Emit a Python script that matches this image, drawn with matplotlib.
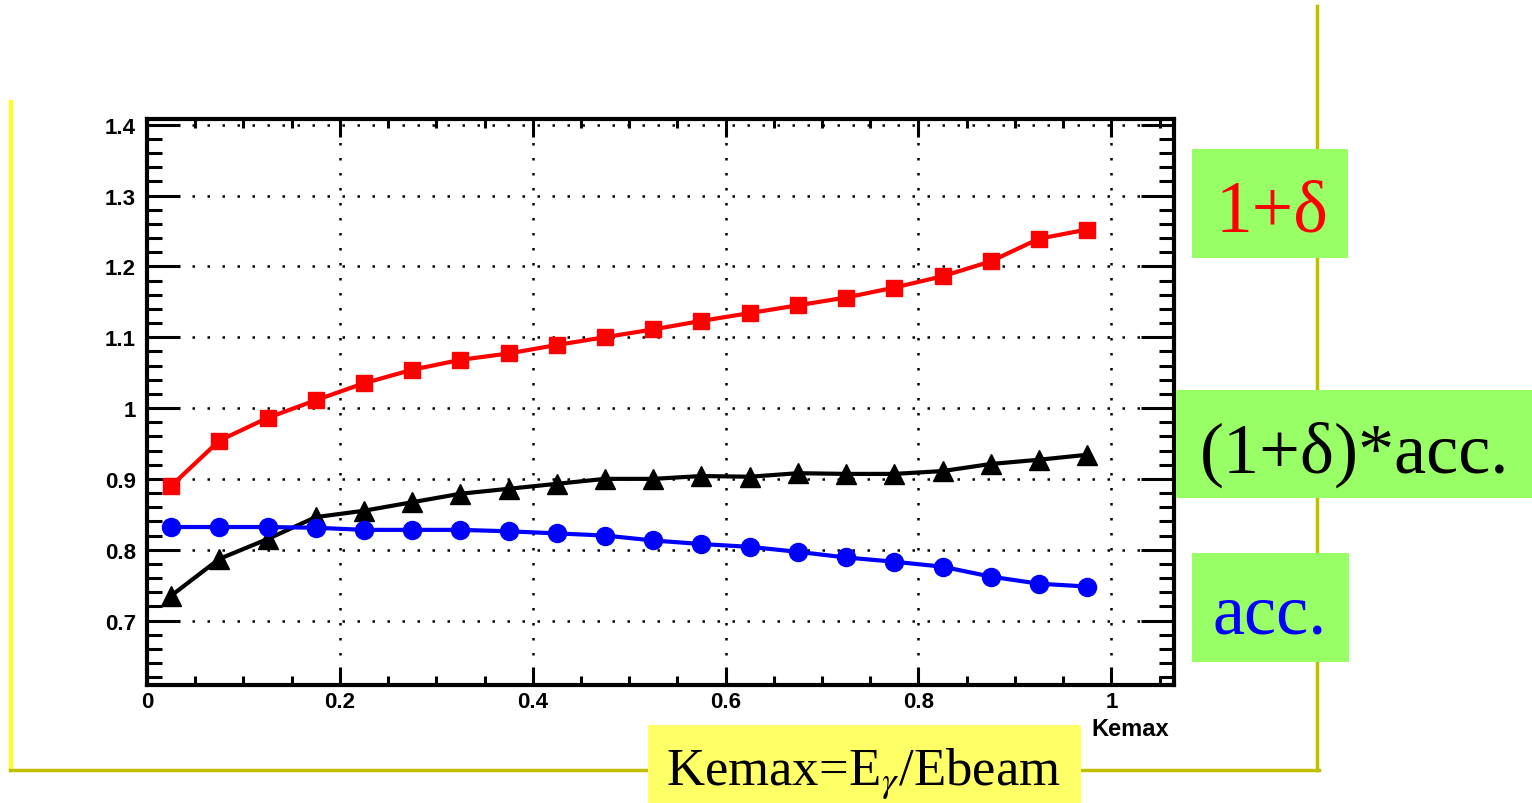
import matplotlib.pyplot as plt
from matplotlib.lines import Line2D
from matplotlib.patches import Rectangle
from matplotlib.ticker import MultipleLocator

# ============================================
# Data
# ============================================

kemax = [0.025, 0.075, 0.125, 0.175, 0.225, 0.275, 0.325, 0.375, 0.425, 0.475,
         0.525, 0.575, 0.625, 0.675, 0.725, 0.775, 0.825, 0.875, 0.925, 0.975]

one_plus_delta = [0.890, 0.954, 0.986, 1.011, 1.035, 1.054, 1.068, 1.077, 1.089, 1.100,
                  1.111, 1.123, 1.134, 1.145, 1.156, 1.170, 1.186, 1.207, 1.239, 1.252]

corrected_acc = [0.735, 0.787, 0.815, 0.846, 0.855, 0.867, 0.879, 0.886, 0.893, 0.900,
                 0.900, 0.904, 0.903, 0.908, 0.907, 0.907, 0.911, 0.921, 0.927, 0.934]

acc = [0.832, 0.832, 0.832, 0.831, 0.828, 0.828, 0.828, 0.826, 0.823, 0.820,
       0.813, 0.808, 0.804, 0.797, 0.789, 0.783, 0.776, 0.762, 0.752, 0.748]

W, H = 1532, 804

def fx(px):
    return px / W

def fy(py):
    return 1 - py / H

plt.rcParams['mathtext.fontset'] = 'stix'

fig = plt.figure(figsize=(15.32, 8.04), dpi=100)
ax = fig.add_axes([fx(147), fy(686), fx(1174) - fx(147), fy(120) - fy(686)])

# ============================================
# Curves
# ============================================

ax.plot(kemax, one_plus_delta, color='red', lw=3, marker='s', markersize=12)
ax.plot(kemax, corrected_acc, color='black', lw=3, marker='^', markersize=15)
ax.plot(kemax, acc, color='blue', lw=3, marker='o', markersize=13)

ax.set_xlim(0, 1.065)
ax.set_ylim(0.609, 1.408)

ax.xaxis.set_major_locator(MultipleLocator(0.2))
ax.xaxis.set_minor_locator(MultipleLocator(0.05))
ax.yaxis.set_major_locator(MultipleLocator(0.1))
ax.yaxis.set_minor_locator(MultipleLocator(0.02))
ax.xaxis.set_major_formatter(lambda v, p: f'{v:g}')
ax.yaxis.set_major_formatter(lambda v, p: f'{v:g}')

ax.grid(True, which='major', color='black', linestyle=(0, (1, 5)), lw=1.8)

# ROOT-style inward ticks on all sides
ax.tick_params(direction='in', top=True, right=True, which='both', width=2.2)
ax.tick_params(axis='y', which='major', length=24, pad=8)
ax.tick_params(axis='y', which='minor', length=11)
ax.tick_params(axis='x', which='major', length=13, pad=4)
ax.tick_params(axis='x', which='minor', length=6.5)

for lab in ax.get_xticklabels() + ax.get_yticklabels():
    lab.set_fontfamily('Liberation Sans')
    lab.set_fontweight('bold')
    lab.set_fontsize(16)

for s in ax.spines.values():
    s.set_linewidth(3)

fig.text(fx(1130), fy(730), 'Kemax', ha='center', va='center',
         family='Liberation Sans', weight='bold', fontsize=17)

# ============================================
# Slide frame lines (behind the label boxes)
# ============================================

fig.add_artist(Line2D([fx(11), fx(11)], [fy(103), fy(771)], color='#ffff22',
                      lw=3, zorder=0.5))
fig.add_artist(Line2D([fx(10), fx(1319)], [fy(771), fy(771)], color='#bfbf00',
                      lw=2.5, zorder=0.5))
fig.add_artist(Line2D([fx(1317), fx(1317)], [fy(7), fy(771)], color='#bfbf00',
                      lw=2.5, zorder=0.5))

# ============================================
# Label boxes
# ============================================

def box(x0, y0, x1, y1, color):
    fig.add_artist(Rectangle((fx(x0), fy(y1)), fx(x1) - fx(x0), fy(y0) - fy(y1),
                             transform=fig.transFigure, facecolor=color,
                             edgecolor='none', zorder=1))

box(1192, 150, 1348, 259, '#99ff66')
box(1176, 391, 1532, 499, '#99ff66')
box(1192, 554, 1349, 663, '#99ff66')
box(648, 726, 1081, 804, '#ffff66')

serif = 'Liberation Serif'
fig.text(fx(1272), fy(214), '1+δ', ha='center', va='center', color='red',
         family=serif, fontsize=53, zorder=3)
fig.text(fx(1355), fy(455), '(1+δ)*acc.', ha='center', va='center', color='black',
         family=serif, fontsize=52, zorder=3)
fig.text(fx(1270), fy(616), 'acc.', ha='center', va='center', color='blue',
         family=serif, fontsize=52, zorder=3)
fig.text(fx(864), fy(774), 'Kemax=E$_{\\gamma}$/Ebeam', ha='center', va='center',
         color='black', family=serif, fontsize=38, zorder=3)

plt.savefig('out.png', dpi=100)
